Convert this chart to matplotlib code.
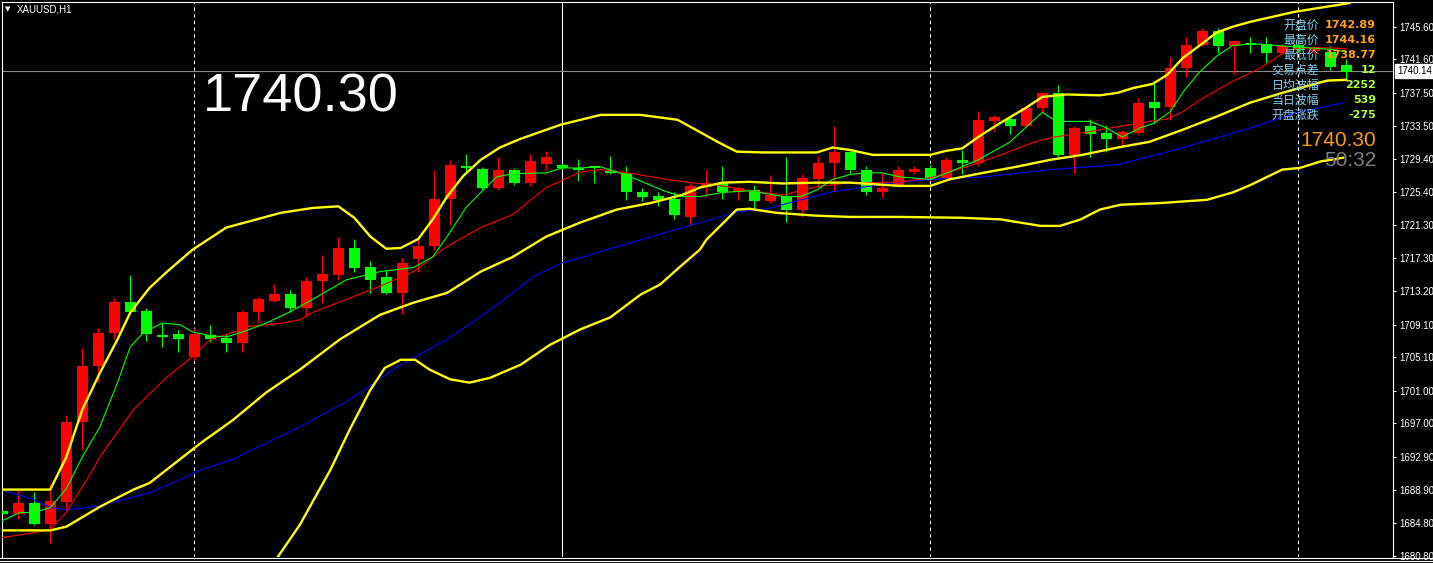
import matplotlib
matplotlib.use('Agg')
import matplotlib.pyplot as plt
from matplotlib.lines import Line2D
import numpy as np

# ---------------- data ----------------
opens = [1686.3, 1685.9, 1687.2, 1684.7, 1687.4, 1697.2, 1704.0, 1708.1, 1711.9, 1710.8,
         1707.8, 1707.9, 1705.1, 1707.8, 1707.5, 1706.9, 1710.6, 1712.0, 1712.8, 1711.1,
         1714.5, 1715.2, 1718.5, 1716.2, 1714.9, 1713.0, 1717.1, 1718.7, 1724.5, 1728.6,
         1728.2, 1725.8, 1728.1, 1726.5, 1728.8, 1728.7, 1728.3, 1728.5, 1727.9, 1727.7,
         1725.4, 1724.9, 1724.5, 1722.3, 1726.0, 1726.5, 1725.3, 1725.6, 1724.2, 1724.9,
         1723.1, 1727.0, 1728.9, 1730.3, 1728.0, 1725.3, 1726.2, 1727.8, 1728.3, 1727.1,
         1729.3, 1728.9, 1734.1, 1734.3, 1733.4, 1735.6, 1737.5, 1729.9, 1733.5, 1732.6,
         1731.8, 1732.6, 1736.4, 1735.8, 1740.6, 1743.4, 1745.1, 1743.2, 1743.6, 1743.5,
         1742.4, 1743.4, 1742.6, 1742.5, 1740.9]
highs = [1687.3, 1689.1, 1688.6, 1689.6, 1698.0, 1706.2, 1708.7, 1712.4, 1715.2, 1711.1,
         1709.3, 1708.4, 1708.7, 1709.1, 1707.9, 1710.9, 1712.5, 1714.1, 1713.3, 1715.0,
         1717.6, 1719.9, 1719.6, 1716.9, 1715.8, 1717.3, 1720.0, 1728.1, 1729.3, 1730.0,
         1728.4, 1729.7, 1728.3, 1730.0, 1730.4, 1728.9, 1729.4, 1728.6, 1729.8, 1728.6,
         1725.9, 1725.3, 1725.4, 1726.5, 1728.0, 1728.5, 1726.1, 1726.2, 1727.4, 1729.7,
         1727.6, 1729.8, 1733.5, 1730.5, 1728.5, 1727.8, 1728.5, 1728.5, 1728.7, 1729.6,
         1730.5, 1735.3, 1734.8, 1734.6, 1735.9, 1737.6, 1738.5, 1733.4, 1734.3, 1733.6,
         1733.0, 1736.9, 1738.9, 1741.9, 1744.4, 1745.4, 1745.4, 1743.9, 1744.3, 1744.3,
         1743.5, 1743.8, 1743.3, 1743.3, 1741.6]
lows = [1685.4, 1685.3, 1684.5, 1682.4, 1686.4, 1693.8, 1702.1, 1707.3, 1710.6, 1707.1,
        1706.4, 1705.8, 1704.8, 1707.0, 1705.7, 1705.7, 1709.3, 1711.9, 1710.6, 1710.0,
        1711.7, 1714.6, 1715.5, 1713.0, 1712.9, 1710.4, 1715.5, 1718.3, 1721.3, 1727.7,
        1725.6, 1725.6, 1726.2, 1726.1, 1728.0, 1728.2, 1726.7, 1726.4, 1727.6, 1724.4,
        1724.2, 1723.6, 1722.1, 1721.2, 1724.8, 1724.5, 1724.4, 1723.3, 1724.0, 1721.7,
        1722.3, 1726.0, 1725.4, 1727.7, 1725.0, 1724.8, 1726.0, 1727.5, 1726.9, 1727.0,
        1727.5, 1728.5, 1732.7, 1732.4, 1733.2, 1735.1, 1729.7, 1727.7, 1729.6, 1730.3,
        1730.9, 1732.4, 1733.8, 1734.2, 1739.5, 1743.2, 1742.4, 1739.8, 1742.4, 1741.2,
        1742.2, 1742.5, 1742.3, 1740.3, 1739.1]
closes = [1685.9, 1687.2, 1684.7, 1687.5, 1697.2, 1704.0, 1708.1, 1711.9, 1710.7, 1707.9,
          1707.6, 1707.3, 1708.0, 1707.4, 1706.8, 1710.7, 1712.2, 1712.8, 1711.1, 1714.5,
          1715.3, 1718.5, 1716.1, 1714.6, 1713.0, 1716.7, 1718.8, 1724.5, 1728.7, 1728.3,
          1725.8, 1728.1, 1726.5, 1729.1, 1729.6, 1728.3, 1728.0, 1728.3, 1727.7, 1725.3,
          1724.8, 1724.4, 1722.5, 1726.1, 1726.5, 1725.3, 1725.8, 1724.2, 1725.0, 1723.1,
          1727.1, 1728.9, 1730.3, 1728.0, 1725.3, 1725.9, 1728.1, 1728.2, 1727.1, 1729.3,
          1728.9, 1734.2, 1734.5, 1733.4, 1735.7, 1737.5, 1729.9, 1733.2, 1732.4, 1731.9,
          1732.7, 1736.2, 1735.7, 1740.6, 1743.4, 1745.1, 1743.2, 1743.8, 1743.4, 1742.4,
          1743.2, 1742.8, 1743.1, 1740.7, 1740.1]

# Bollinger upper / middle / lower (vertex index, price)
upper_x = [-0.2, 3.0, 4.0, 5.0, 6.1, 7.2, 8.0, 9.2, 10.3, 11.9, 14.0, 17.4, 19.4, 21.0, 22.0,
           23.0, 24.0, 24.9, 26.0, 26.9, 27.8, 28.8, 29.9, 31.1, 32.3, 34.9, 37.4, 39.9, 42.2,
           43.6, 44.7, 45.9, 47.5, 50.9, 51.9, 53.0, 54.4, 58.0, 59.0, 60.0, 61.0, 62.2, 64.0,
           65.0, 66.5, 68.6, 69.7, 70.7, 71.9, 72.8, 73.8, 74.9, 75.9, 76.9, 78.0, 80.7, 84.2]
upper_y = [1688.9, 1688.9, 1692.9, 1698.7, 1703.2, 1707.3, 1710.6, 1713.6, 1715.6, 1718.3,
           1721.0, 1722.8, 1723.4, 1723.6, 1722.2, 1719.9, 1718.4, 1718.5, 1719.6, 1722.0,
           1724.8, 1727.3, 1729.3, 1730.8, 1731.8, 1733.6, 1734.8, 1734.8, 1734.2, 1732.7,
           1731.5, 1730.3, 1730.2, 1730.2, 1730.8, 1730.5, 1729.9, 1729.9, 1730.4, 1730.7,
           1732.1, 1733.6, 1735.7, 1737.0, 1737.3, 1737.2, 1737.5, 1738.1, 1738.6, 1739.7,
           1741.8, 1743.4, 1744.9, 1745.6, 1746.2, 1747.4, 1748.5]
mid_x = [-0.2, 3.0, 4.0, 6.1, 8.2, 9.2, 12.4, 14.4, 16.5, 18.6, 21.1, 23.6, 25.7, 27.8, 29.9,
         31.9, 34.0, 36.1, 38.4, 40.5, 42.5, 43.6, 45.0, 46.7, 48.8, 50.9, 53.0, 56.1, 58.0,
         59.2, 61.3, 63.4, 65.5, 67.5, 69.7, 71.7, 73.8, 75.9, 78.0, 80.0, 81.1, 82.8, 84.0]
mid_y = [1683.9, 1683.9, 1684.35, 1686.8, 1688.9, 1689.7, 1694.6, 1697.4, 1700.8, 1703.6,
         1707.3, 1710.3, 1711.8, 1713.0, 1715.6, 1717.4, 1719.9, 1721.6, 1723.2, 1724.0,
         1725.0, 1725.9, 1726.5, 1726.6, 1726.4, 1726.5, 1726.5, 1726.1, 1726.1, 1726.9,
         1727.7, 1728.45, 1729.3, 1729.9, 1730.8, 1731.5, 1733.0, 1734.6, 1736.3, 1737.5,
         1738.1, 1739.0, 1739.1]
lower_x = [16.6, 17.2, 18.6, 20.5, 21.7, 23.0, 23.9, 24.9, 25.8, 26.7, 28.0, 29.2, 30.5, 32.4,
           34.2, 36.1, 38.0, 39.9, 41.1, 42.3, 43.6, 44.0, 45.9, 46.7, 48.4, 50.9, 53.0, 56.1,
           59.9, 62.4, 64.9, 66.1, 67.4, 68.6, 69.9, 72.4, 75.3, 76.9, 78.0, 80.0, 81.1, 82.4, 83.8]
lower_y = [1678.9, 1680.6, 1684.6, 1691.3, 1696.2, 1701.1, 1703.8, 1704.8, 1704.8, 1703.6,
           1702.4, 1702.0, 1702.6, 1704.2, 1706.6, 1708.5, 1710.0, 1712.8, 1714.0, 1716.1,
           1718.3, 1719.5, 1723.2, 1723.3, 1722.8, 1722.45, 1722.3, 1722.3, 1722.2, 1722.0,
           1721.2, 1721.2, 1722.0, 1723.2, 1723.8, 1724.0, 1724.4, 1725.3, 1726.2, 1728.1,
           1728.3, 1729.1, 1729.55]

# moving averages
ma_fast_x = [-0.1, 1.1, 2.0, 3.0, 4.0, 5.0, 6.1, 7.2, 8.0, 8.8, 10.0, 11.1, 11.9, 13.0, 14.0,
             15.0, 16.5, 18.0, 19.4, 21.5, 23.6, 25.7, 26.9, 27.8, 29.0, 29.9, 30.9, 31.9, 34.0,
             35.0, 36.1, 37.4, 38.4, 39.4, 40.5, 41.5, 42.5, 43.6, 45.0, 46.7, 48.8, 49.9, 50.9,
             51.9, 53.0, 54.0, 55.0, 56.1, 58.0, 59.2, 61.0, 63.0, 64.0, 65.0, 65.9, 68.0, 69.0,
             70.0, 71.1, 72.0, 73.0, 73.8, 74.8, 75.9, 76.9, 78.0, 79.0, 81.1, 83.2, 84.0]
ma_fast_y = [1685.0, 1686.1, 1686.1, 1686.7, 1689.0, 1692.9, 1696.6, 1702.0, 1706.4, 1708.1,
             1709.3, 1709.1, 1708.2, 1707.75, 1707.6, 1708.2, 1709.3, 1710.7, 1712.2, 1714.6,
             1715.6, 1716.1, 1717.4, 1719.9, 1723.5, 1725.3, 1727.2, 1727.6, 1727.7, 1728.3,
             1728.3, 1728.45, 1727.8, 1727.1, 1726.2, 1725.4, 1724.8, 1724.8, 1725.3, 1725.5,
             1724.8, 1724.8, 1725.6, 1726.9, 1727.5, 1727.7, 1727.7, 1727.2, 1726.9, 1727.8,
             1729.3, 1731.5, 1733.35, 1735.1, 1734.0, 1734.0, 1733.2, 1732.1, 1733.2, 1733.8,
             1735.2, 1737.6, 1740.0, 1742.0, 1743.3, 1743.5, 1743.4, 1743.1, 1742.8, 1742.5]
ma_mid_x = [-0.1, 1.9, 3.0, 4.0, 5.5, 6.1, 8.2, 10.3, 11.9, 13.0, 14.0, 15.5, 17.5, 18.6, 19.4,
            21.5, 23.6, 25.7, 27.8, 29.9, 31.9, 34.0, 36.1, 37.4, 39.4, 41.5, 43.0, 44.7, 46.7,
            48.8, 50.9, 53.0, 55.0, 56.1, 58.0, 60.3, 62.4, 64.4, 65.5, 67.5, 69.7, 71.7, 72.8,
            73.8, 74.9, 76.9, 78.6, 80.3, 81.1, 83.2, 84.0]
ma_mid_y = [1683.0, 1683.6, 1684.0, 1686.1, 1690.8, 1692.9, 1698.7, 1702.7, 1705.2, 1707.3,
            1707.9, 1708.9, 1709.3, 1709.7, 1710.6, 1712.2, 1713.8, 1715.6, 1718.7, 1721.0,
            1722.6, 1725.9, 1727.8, 1728.1, 1727.6, 1726.9, 1726.5, 1726.2, 1725.5, 1725.0,
            1726.0, 1726.5, 1726.5, 1726.6, 1727.1, 1728.45, 1729.9, 1731.4, 1732.0, 1732.6,
            1733.35, 1734.0, 1734.3, 1735.2, 1736.7, 1738.9, 1740.5, 1742.7, 1743.0, 1743.0, 1742.9]
ma_slow_x = [-0.1, 1.9, 3.0, 4.0, 6.1, 8.2, 9.2, 11.1, 12.4, 14.4, 16.5, 18.6, 21.7, 24.9, 27.8,
             29.9, 31.9, 33.2, 35.0, 36.1, 39.9, 42.5, 44.7, 45.9, 47.8, 49.9, 51.9, 54.0, 56.1,
             58.2, 61.3, 65.5, 69.7, 71.7, 73.8, 75.9, 78.0, 80.0, 80.7, 83.8]
ma_slow_y = [1688.9, 1687.7, 1686.7, 1686.4, 1686.9, 1688.0, 1688.5, 1690.1, 1691.3, 1692.6,
             1694.6, 1696.6, 1699.9, 1704.2, 1707.3, 1710.1, 1713.0, 1715.0, 1716.7, 1717.3,
             1719.5, 1721.0, 1722.2, 1722.9, 1723.3, 1724.4, 1725.4, 1726.0, 1726.6, 1726.9,
             1727.2, 1728.1, 1728.7, 1729.7, 1730.8, 1732.0, 1733.2, 1734.5, 1735.0, 1736.3]

price_ticks = [1745.60, 1741.60, 1737.50, 1733.50, 1729.40, 1725.40, 1721.30, 1717.30, 1713.20,
               1709.10, 1705.10, 1701.00, 1697.00, 1692.90, 1688.90, 1684.80, 1680.80]
bid_price = 1740.14
grid_dashed = [12, 58, 81]
grid_solid = [35]

info_labels = ['开盘价', '最高价', '最低价', '交易点差', '日均波幅', '当日波幅', '开盘涨跌']
info_values = ['1742.89', '1744.16', '1738.77', '12', '2252', '539', '-275']
info_colors = ['#FFA010', '#FFA010', '#FFA010', '#ADFF2F', '#ADFF2F', '#ADFF2F', '#ADFF2F']
big_price = '1740.30'
countdown = '50:32'
symbol = 'XAUUSD,H1'

# ---------------- figure ----------------
W, H = 1433, 563
fig = plt.figure(figsize=(W / 100, H / 100), dpi=100, facecolor='black')
ax = fig.add_axes([2 / W, 6 / H, 1391 / W, 555 / H], facecolor='black')

def px(x, y):
    return x / W, 1 - y / H

n = len(opens)
idx = np.arange(n)
o = np.array(opens); c = np.array(closes); h = np.array(highs); l = np.array(lows)
cols = np.where(c >= o, '#FF0000', '#00FF00')

ax.vlines(idx, l, h, colors=cols, linewidth=0.8, zorder=2)
body_lo = np.minimum(o, c)
body_h = np.maximum(np.abs(c - o), 0.13)
ax.bar(idx, body_h, bottom=body_lo, width=0.67, color=cols, linewidth=0, zorder=3)

# grid / separators
for g in grid_dashed:
    ax.axvline(g, color='white', linewidth=0.8, linestyle=(0, (3, 3)), zorder=1)
for g in grid_solid:
    ax.axvline(g, color='white', linewidth=0.8, zorder=1)

# bid line
ax.axhline(bid_price, color='#8a8a8a', linewidth=0.8, zorder=1.5)

# indicators
ax.plot(ma_slow_x, ma_slow_y, color='#0000FF', linewidth=0.8, zorder=4)
ax.plot(ma_mid_x, ma_mid_y, color='#FF0000', linewidth=0.8, zorder=4)
ax.plot(ma_fast_x, ma_fast_y, color='#00FF00', linewidth=0.8, zorder=4)
for bx, by in [(upper_x, upper_y), (mid_x, mid_y), (lower_x, lower_y)]:
    ax.plot(bx, by, color='#FFFF00', linewidth=1.7, zorder=5, solid_joinstyle='round')

ax.set_xlim(-0.02, 86.92)
ax.set_ylim(1680.64, 1748.63)

for s in ['left', 'top', 'right']:
    ax.spines[s].set_color('white')
    ax.spines[s].set_linewidth(0.8)
ax.spines['bottom'].set_visible(False)
ax.set_xticks([])
ax.yaxis.tick_right()
ax.set_yticks(price_ticks)
ax.set_yticklabels([f'{t:.2f}' for t in price_ticks], family='Liberation Sans', fontsize=7, color='white')
ax.tick_params(axis='y', colors='white', length=2.5, width=0.8, pad=2)

# double bottom lines
for yy in (557.5, 560.5):
    fig.add_artist(Line2D([0, 1], [1 - yy / H, 1 - yy / H], color='white', linewidth=0.8,
                          transform=fig.transFigure))

# bid label box
fig.text(*px(1397, 71), f'{bid_price:.2f}', family='Liberation Sans', fontsize=7, color='black',
         va='center', ha='left', bbox=dict(facecolor='white', edgecolor='white', pad=1.2))

# top-left caption
fig.text(*px(5, 9), '▼', fontsize=5, color='white', va='center', ha='left')
fig.text(*px(17, 9), symbol, family='Liberation Sans', fontsize=7, color='white', va='center', ha='left')

# big price
fig.text(*px(203, 112), big_price, family='Liberation Sans', fontsize=39, color='white',
         va='baseline', ha='left')

# info panel
row_y = [25, 40, 55, 70, 85, 100, 115]
for lab, val, col, yy in zip(info_labels, info_values, info_colors, row_y):
    fig.text(*px(1319, yy), lab, family=['Noto Sans CJK SC', 'DejaVu Sans'], fontsize=8.6,
             color='#87CEEB', va='center', ha='right')
    fig.text(*px(1376, yy), val, family='DejaVu Sans', fontweight='bold', fontsize=8,
             color=col, va='center', ha='right')

fig.text(*px(1376, 141), big_price, family='Liberation Sans', fontsize=15, color='#F39A12',
         va='center', ha='right')
fig.text(*px(1376, 160), countdown, family='Liberation Sans', fontsize=15, color='#7F7F7F',
         va='center', ha='right')

fig.savefig('out.png', dpi=100, facecolor='black')
